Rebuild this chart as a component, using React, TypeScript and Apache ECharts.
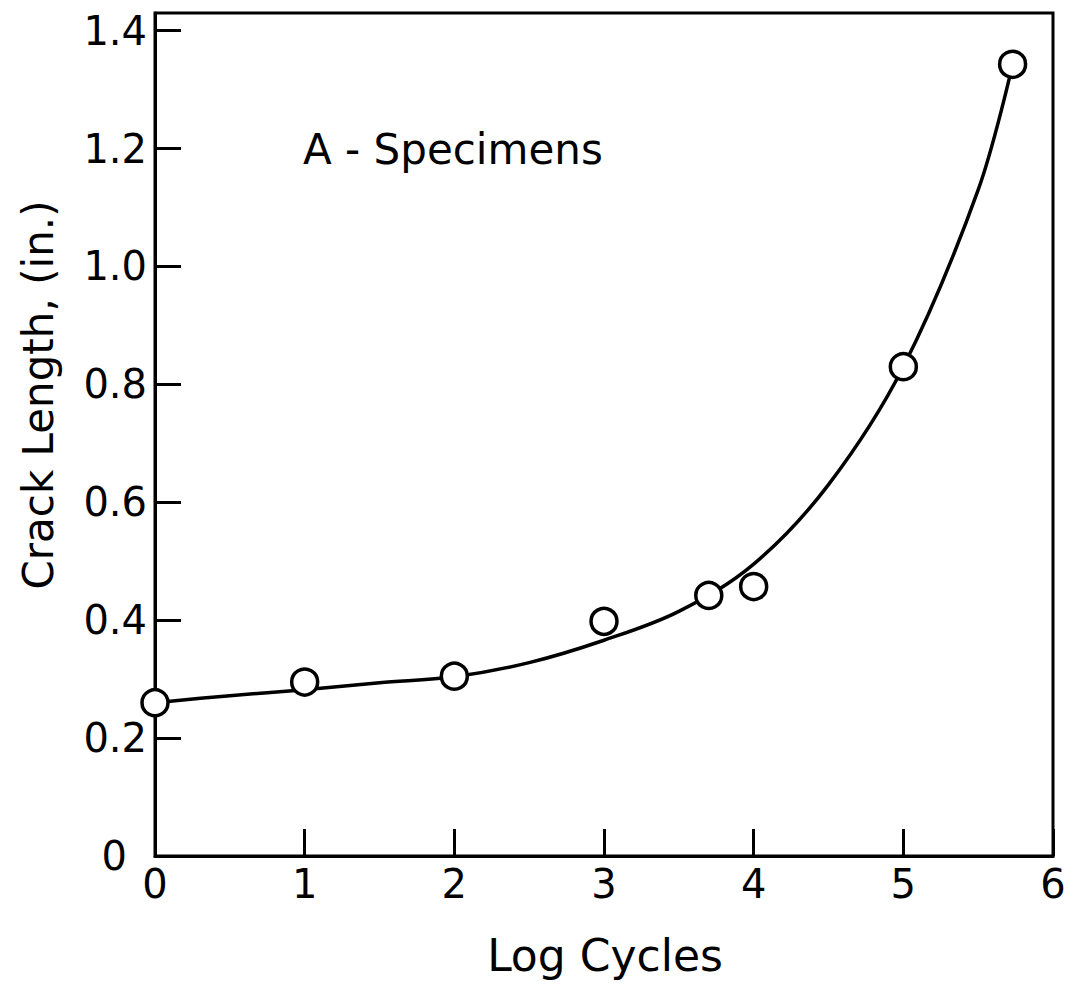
import React, { useEffect, useRef } from "react";
import * as echarts from "echarts";

// Measured data points (open circles)
const pointX = [0, 1, 2, 3, 3.7, 4, 5, 5.73];
const pointY = [0.26, 0.295, 0.305, 0.398, 0.442, 0.457, 0.83, 1.343];

// Fitted curve
const curveX = [0, 0.5, 1, 1.5, 2, 2.5, 3, 3.5, 4, 4.5, 5, 5.5, 5.73];
const curveY = [0.26, 0.272, 0.282, 0.294, 0.304, 0.328, 0.366, 0.415, 0.495, 0.63, 0.83, 1.13, 1.343];

const xTicks = [0, 1, 2, 3, 4, 5, 6];
const yTickStep = 0.2;
const yMax = 1.43;

const xTitle = "Log Cycles";
const yTitle = "Crack Length, (in.)";
const annotation = "A - Specimens";

const FONT = "DejaVu Sans";

export default function App() {
  const ref = useRef<HTMLDivElement>(null);

  useEffect(() => {
    if (!ref.current) return;
    const chart = echarts.init(ref.current, undefined, { renderer: "svg" });
    const option: any = {
      animation: false,
      backgroundColor: "#ffffff",
      grid: {
        left: 155,
        right: 17,
        top: 13,
        bottom: 134,
        show: true,
        borderColor: "#000",
        borderWidth: 3,
        backgroundColor: "transparent",
      },
      xAxis: {
        type: "value",
        min: xTicks[0],
        max: xTicks[xTicks.length - 1],
        interval: 1,
        splitLine: { show: false },
        axisLine: { show: true, lineStyle: { color: "#000", width: 3 } },
        axisTick: { show: true, inside: true, length: 27, lineStyle: { color: "#000", width: 3 } },
        axisLabel: {
          show: true,
          margin: 8,
          color: "#000",
          fontFamily: FONT,
          fontSize: 40,
          formatter: (v: number) => String(Math.round(v)),
        },
      },
      yAxis: {
        type: "value",
        min: 0,
        max: yMax,
        interval: yTickStep,
        splitLine: { show: false },
        axisLine: { show: true, lineStyle: { color: "#000", width: 3 } },
        axisTick: {
          show: true,
          inside: true,
          length: 26,
          lineStyle: { color: "#000", width: 3 },
        },
        axisLabel: {
          show: true,
          showMaxLabel: false,
          margin: 8,
          color: "#000",
          fontFamily: FONT,
          fontSize: 40,
          formatter: (v: number) => {
            if (v > 1.41) return "";
            return Math.abs(v) < 1e-9 ? "{z|0}" : v.toFixed(1);
          },
          rich: {
            z: { fontFamily: FONT, fontSize: 40, color: "#000", padding: [0, 20, 0, 0] },
          },
        },
      },
      graphic: [
        {
          type: "text",
          left: 303,
          top: 128,
          style: { text: annotation, fontFamily: FONT, fontSize: 42, fill: "#000" },
        },
        {
          type: "text",
          x: 38,
          y: 395,
          rotation: Math.PI / 2,
          style: {
            text: yTitle,
            fontFamily: FONT,
            fontSize: 42,
            fill: "#000",
            align: "center",
            verticalAlign: "middle",
          },
        },
        {
          type: "text",
          x: 605,
          y: 955,
          style: {
            text: xTitle,
            fontFamily: FONT,
            fontSize: 44,
            fill: "#000",
            align: "center",
            verticalAlign: "middle",
          },
        },
      ],
      series: [
        {
          type: "line",
          data: curveX.map((x, i) => [x, curveY[i]]),
          smooth: 0.35,
          showSymbol: false,
          symbol: "none",
          lineStyle: { color: "#000", width: 3.5 },
          z: 2,
        },
        {
          type: "scatter",
          data: pointX.map((x, i) => [x, pointY[i]]),
          symbol: "circle",
          symbolSize: 26,
          itemStyle: { color: "#fff", borderColor: "#000", borderWidth: 3.5, opacity: 1 },
          clip: false,
          z: 3,
        },
      ],
    };
    chart.setOption(option);
    return () => chart.dispose();
  }, []);

  return (
    <div
      ref={ref}
      style={{ position: "fixed", left: 0, top: 0, width: 1070, height: 990, background: "#fff" }}
    />
  );
}
